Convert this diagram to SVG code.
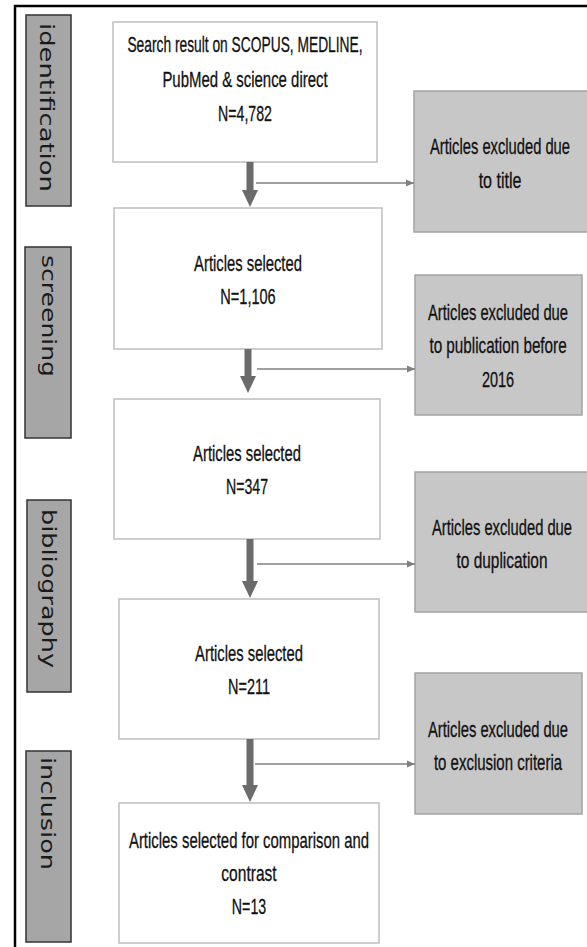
<svg xmlns="http://www.w3.org/2000/svg" width="587" height="947" viewBox="0 0 587 947">
<style>
.frame{fill:none;stroke:#000;stroke-width:2.5}
.side rect{fill:#a6a6a6;stroke:#333;stroke-width:1.5}
.side text{font-family:"DejaVu Sans","Liberation Sans",sans-serif;font-size:19px;fill:#1a1a1a}
.box rect{fill:#fff;stroke:#bfbfbf;stroke-width:1.5}
.ex rect{fill:#c7c7c7;stroke:#a3a3a3;stroke-width:1.5}
.box text,.ex text{font-family:"Liberation Sans",Arial,sans-serif;font-size:21.5px;fill:#111;stroke:#111;stroke-width:0.3;text-anchor:middle}
.thick{fill:#6b6b6b}
.thin{stroke:#808080;stroke-width:1.5;fill:none;marker-end:url(#ah)}
</style>
<defs>
<marker id="ah" viewBox="0 0 8 8" refX="8" refY="4" markerWidth="8" markerHeight="8" markerUnits="userSpaceOnUse" orient="auto">
<path d="M0,0.5 L8,4 L0,7.5 Z" fill="#808080"/>
</marker>
</defs>
<rect width="587" height="947" fill="#fff"/>
<path class="frame" d="M15,947 V6 H590"/>

<g id="side-identification" class="side">
<rect x="26" y="15" width="45" height="191"/>
<text transform="translate(40,23) rotate(90)" textLength="169" lengthAdjust="spacingAndGlyphs">identification</text>
</g>
<g id="side-screening" class="side">
<rect x="25" y="247" width="46" height="191"/>
<text transform="translate(42,255) rotate(90)" textLength="122" lengthAdjust="spacingAndGlyphs">screening</text>
</g>
<g id="side-bibliography" class="side">
<rect x="27" y="500" width="44" height="192"/>
<text transform="translate(42,509) rotate(90)" textLength="159" lengthAdjust="spacingAndGlyphs">bibliography</text>
</g>
<g id="side-inclusion" class="side">
<rect x="26" y="751" width="45" height="191"/>
<text transform="translate(41,757) rotate(90)" textLength="113" lengthAdjust="spacingAndGlyphs">inclusion</text>
</g>

<g id="box1" class="box">
<rect x="113" y="22" width="264" height="140"/>
<text transform="translate(245,0) scale(0.7,1)" x="0" y="52" textLength="336" lengthAdjust="spacingAndGlyphs">Search result on SCOPUS, MEDLINE,</text>
<text transform="translate(245,0) scale(0.7,1)" x="0" y="87" textLength="236" lengthAdjust="spacingAndGlyphs">PubMed &amp; science direct</text>
<text transform="translate(245,0) scale(0.7,1)" x="0" y="121" textLength="77" lengthAdjust="spacingAndGlyphs">N=4,782</text>
</g>
<g id="box2" class="box">
<rect x="114" y="208" width="268" height="141"/>
<text transform="translate(248,0) scale(0.7,1)" x="0" y="271" textLength="154" lengthAdjust="spacingAndGlyphs">Articles selected</text>
<text transform="translate(248,0) scale(0.7,1)" x="0" y="304" textLength="79" lengthAdjust="spacingAndGlyphs">N=1,106</text>
</g>
<g id="box3" class="box">
<rect x="114" y="399" width="266" height="140"/>
<text transform="translate(247,0) scale(0.7,1)" x="0" y="461" textLength="154" lengthAdjust="spacingAndGlyphs">Articles selected</text>
<text transform="translate(247,0) scale(0.7,1)" x="0" y="494" textLength="60" lengthAdjust="spacingAndGlyphs">N=347</text>
</g>
<g id="box4" class="box">
<rect x="119" y="599" width="260" height="140"/>
<text transform="translate(249,0) scale(0.7,1)" x="0" y="661" textLength="154" lengthAdjust="spacingAndGlyphs">Articles selected</text>
<text transform="translate(249,0) scale(0.7,1)" x="0" y="694" textLength="60" lengthAdjust="spacingAndGlyphs">N=211</text>
</g>
<g id="box5" class="box">
<rect x="119" y="803" width="260" height="140"/>
<text transform="translate(249,0) scale(0.7,1)" x="0" y="848" textLength="343" lengthAdjust="spacingAndGlyphs">Articles selected for comparison and</text>
<text transform="translate(249,0) scale(0.7,1)" x="0" y="881" textLength="79" lengthAdjust="spacingAndGlyphs">contrast</text>
<text transform="translate(249,0) scale(0.7,1)" x="0" y="914" textLength="49" lengthAdjust="spacingAndGlyphs">N=13</text>
</g>

<g id="excl1" class="ex">
<rect x="414" y="91" width="180" height="141"/>
<text transform="translate(500,0) scale(0.7,1)" x="0" y="154" textLength="200" lengthAdjust="spacingAndGlyphs">Articles excluded due</text>
<text transform="translate(500,0) scale(0.7,1)" x="0" y="188" textLength="61" lengthAdjust="spacingAndGlyphs">to title</text>
</g>
<g id="excl2" class="ex">
<rect x="415" y="275" width="167" height="140"/>
<text transform="translate(498,0) scale(0.7,1)" x="0" y="320" textLength="200" lengthAdjust="spacingAndGlyphs">Articles excluded due</text>
<text transform="translate(498,0) scale(0.7,1)" x="0" y="353" textLength="196" lengthAdjust="spacingAndGlyphs">to publication before</text>
<text transform="translate(498,0) scale(0.7,1)" x="0" y="387" textLength="46" lengthAdjust="spacingAndGlyphs">2016</text>
</g>
<g id="excl3" class="ex">
<rect x="415" y="472" width="179" height="140"/>
<text transform="translate(502,0) scale(0.7,1)" x="0" y="535" textLength="200" lengthAdjust="spacingAndGlyphs">Articles excluded due</text>
<text transform="translate(502,0) scale(0.7,1)" x="0" y="568" textLength="130" lengthAdjust="spacingAndGlyphs">to duplication</text>
</g>
<g id="excl4" class="ex">
<rect x="415" y="673" width="167" height="141"/>
<text transform="translate(498,0) scale(0.7,1)" x="0" y="737" textLength="200" lengthAdjust="spacingAndGlyphs">Articles excluded due</text>
<text transform="translate(498,0) scale(0.7,1)" x="0" y="770" textLength="183" lengthAdjust="spacingAndGlyphs">to exclusion criteria</text>
</g>

<g id="connectors">
<path class="thick" d="M246.5,162 H253.5 V190 H258 L250,207 L242,190 H246.5 Z"/>
<path class="thick" d="M244.5,349 H251.5 V376 H256 L248,393 L240,376 H244.5 Z"/>
<path class="thick" d="M246.5,539 H253.5 V581 H258 L250,598 L242,581 H246.5 Z"/>
<path class="thick" d="M246.5,739 H253.5 V785 H258 L250,802 L242,785 H246.5 Z"/>
<line class="thin" x1="256" y1="183" x2="414" y2="183"/>
<line class="thin" x1="257" y1="369" x2="415" y2="369"/>
<line class="thin" x1="257" y1="564" x2="415" y2="564"/>
<line class="thin" x1="255" y1="764" x2="415" y2="764"/>
</g>
</svg>
